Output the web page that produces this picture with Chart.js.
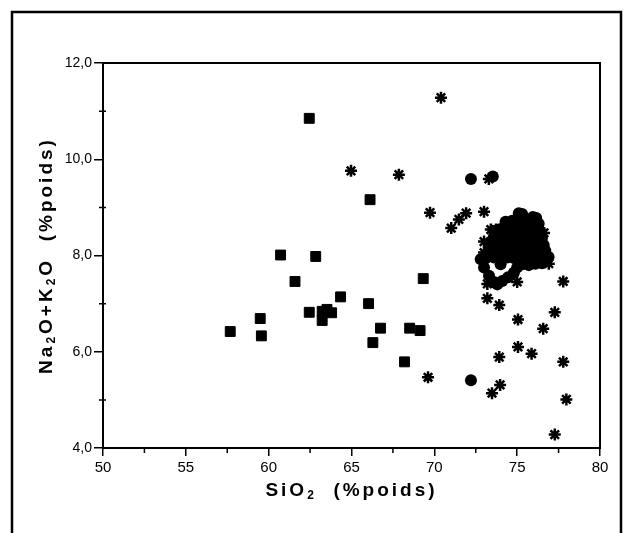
<!DOCTYPE html>
<html>
<head>
<meta charset="utf-8">
<script src="https://cdn.jsdelivr.net/npm/chart.js@4.4.0/dist/chart.umd.min.js"></script>
<style>
  html, body { margin: 0; padding: 0; background: #fff; }
  #wrap { position: relative; width: 627px; height: 533px; }
</style>
</head>
<body>
<div id="wrap"><canvas id="c" width="627" height="533"></canvas></div>
<script>
// ---- data (SiO2 %, Na2O+K2O %) ----
const squarePoints = [
  [62.45, 10.85], [66.12, 9.16], [60.72, 8.01], [62.84, 7.98], [61.59, 7.46],
  [64.34, 7.14], [69.33, 7.52], [66.03, 7.00], [57.68, 6.42], [59.49, 6.69],
  [59.56, 6.33], [62.45, 6.82], [63.23, 6.84], [63.52, 6.88], [63.80, 6.81],
  [63.23, 6.65], [66.75, 6.49], [68.51, 6.49], [69.14, 6.44], [66.29, 6.19],
  [68.20, 5.79]
];
const starPoints = [
  [70.40, 11.28], [64.97, 9.76], [67.86, 9.68], [69.74, 8.89], [71.02, 8.57],
  [71.48, 8.75], [71.92, 8.88], [73.00, 8.91], [73.29, 9.59], [73.41, 8.54],
  [73.73, 8.54], [73.00, 8.29], [73.00, 8.06], [73.20, 7.41], [75.00, 7.45],
  [77.78, 7.46], [76.91, 7.83], [76.62, 8.47], [73.20, 7.11], [73.92, 6.97],
  [75.05, 6.67], [77.27, 6.82], [76.57, 6.48], [75.05, 6.10], [75.87, 5.96],
  [73.92, 5.89], [77.78, 5.79], [69.62, 5.47], [73.97, 5.31], [73.48, 5.14],
  [77.97, 5.01], [77.27, 4.28]
];
const circlePoints = [
  [72.21, 9.59], [73.53, 9.64], [72.21, 5.41],
  [75.10, 8.88], [75.30, 8.86], [75.95, 8.80], [76.15, 8.78],
  [74.30, 8.70], [74.70, 8.72], [75.10, 8.70], [75.50, 8.68], [75.90, 8.70], [76.30, 8.66],
  [74.00, 8.55], [74.40, 8.56], [74.80, 8.55], [75.20, 8.54], [75.60, 8.55], [76.00, 8.53], [76.40, 8.50],
  [73.60, 8.40], [74.00, 8.41], [74.40, 8.40], [74.80, 8.39], [75.20, 8.40], [75.60, 8.38], [76.00, 8.40], [76.50, 8.37],
  [73.30, 8.25], [73.70, 8.26], [74.10, 8.24], [74.50, 8.25], [74.90, 8.26], [75.30, 8.24], [75.70, 8.25], [76.10, 8.23], [76.60, 8.22],
  [73.40, 8.10], [73.80, 8.11], [74.20, 8.09], [74.60, 8.10], [75.00, 8.11], [75.40, 8.09], [75.80, 8.10], [76.20, 8.08], [76.70, 8.10],
  [73.10, 7.95], [73.60, 7.96], [74.00, 7.94], [74.40, 7.96], [74.80, 7.95], [75.20, 7.94], [75.60, 7.96], [76.00, 7.95], [76.40, 7.94], [76.90, 7.97],
  [74.00, 7.82], [75.30, 7.82], [75.70, 7.80], [76.10, 7.83], [76.50, 7.84],
  [72.80, 7.92], [73.00, 7.75], [73.30, 7.58], [73.60, 7.45], [73.80, 7.40],
  [74.10, 7.47], [74.45, 7.55], [74.80, 7.64], [75.00, 7.75]
];
const xTickValues = [50, 55, 60, 65, 70, 75, 80];
const xMinorTicks = [52.5, 57.5, 62.5, 67.5, 72.5, 77.5];
const yTickValues = [4, 6, 8, 10, 12];
const yMinorTicks = [5, 7, 9, 11];
// axis titles: [text, isSubscript]
const xTitleParts = [['SiO', false], ['2', true], ['  (%poids)', false]];
const yTitleParts = [['Na', false], ['2', true], ['O+K', false], ['2', true], ['O  (%poids)', false]];

const toXY = arr => arr.map(p => ({ x: p[0], y: p[1] }));

function drawParts(ctx, parts, cx, cy) {
  const big = 'bold 19px "Liberation Sans", Arial, sans-serif';
  const small = 'bold 12px "Liberation Sans", Arial, sans-serif';
  ctx.letterSpacing = '3px';
  let total = 0;
  const widths = parts.map(([t, sub]) => {
    ctx.font = sub ? small : big;
    const w = ctx.measureText(t).width;
    total += w;
    return w;
  });
  let x = cx - total / 2;
  ctx.textBaseline = 'middle';
  ctx.textAlign = 'left';
  parts.forEach(([t, sub], i) => {
    ctx.font = sub ? small : big;
    ctx.fillText(t, x, sub ? cy + 5 : cy);
    x += widths[i];
  });
  ctx.letterSpacing = '0px';
}

const decorPlugin = {
  id: 'decor',
  beforeDraw(chart) {
    const ctx = chart.ctx;
    ctx.save();
    ctx.fillStyle = '#fff';
    ctx.fillRect(0, 0, chart.width, chart.height);
    ctx.strokeStyle = '#000';
    ctx.lineWidth = 2.5;
    ctx.beginPath();
    ctx.moveTo(12, 533);
    ctx.lineTo(12, 12);
    ctx.lineTo(621, 12);
    ctx.lineTo(621, 533);
    ctx.stroke();
    ctx.restore();
  },
  afterDraw(chart) {
    const ctx = chart.ctx;
    const a = chart.chartArea;
    const xs = chart.scales.x, ys = chart.scales.y;
    ctx.save();
    ctx.strokeStyle = '#000';
    ctx.lineWidth = 2;
    ctx.strokeRect(a.left, a.top, a.right - a.left, a.bottom - a.top);
    ctx.lineWidth = 1.5;
    ctx.beginPath();
    xMinorTicks.forEach(v => {
      const px = xs.getPixelForValue(v);
      ctx.moveTo(px, a.bottom);
      ctx.lineTo(px, a.bottom + 5);
    });
    yMinorTicks.forEach(v => {
      const py = ys.getPixelForValue(v);
      ctx.moveTo(a.left - 4, py);
      ctx.lineTo(a.left + 3, py);
    });
    ctx.stroke();
    ctx.fillStyle = '#000';
    // x title
    drawParts(ctx, xTitleParts, (a.left + a.right) / 2, 491);
    // y title (rotated)
    ctx.save();
    ctx.translate(47, (a.top + a.bottom) / 2);
    ctx.rotate(-Math.PI / 2);
    drawParts(ctx, yTitleParts, 0, 0);
    ctx.restore();
    ctx.restore();
  }
};

new Chart(document.getElementById('c'), {
  type: 'scatter',
  data: {
    datasets: [
      {
        data: toXY(squarePoints),
        pointStyle: 'rect',
        pointRadius: 7,
        backgroundColor: '#000',
        borderColor: '#000',
        borderWidth: 1
      },
      {
        data: toXY(starPoints),
        pointStyle: 'star',
        pointRadius: 6,
        backgroundColor: '#000',
        borderColor: '#000',
        borderWidth: 2.5
      },
      {
        data: toXY(circlePoints),
        pointStyle: 'circle',
        pointRadius: 6,
        backgroundColor: '#000',
        borderColor: '#000',
        borderWidth: 0
      }
    ]
  },
  options: {
    responsive: false,
    animation: false,
    layout: { padding: { left: 38, top: 63, right: 27, bottom: 35 } },
    plugins: { legend: { display: false }, tooltip: { enabled: false } },
    scales: {
      x: {
        type: 'linear',
        min: 50, max: 80,
        afterFit: s => { s.height = 50; },
        afterBuildTicks: s => { s.ticks = xTickValues.map(v => ({ value: v })); },
        ticks: {
          color: '#000',
          padding: 3,
          maxRotation: 0,
          autoSkip: false,
          font: { family: 'Liberation Sans', size: 15 },
          callback: v => String(v)
        },
        grid: { drawOnChartArea: false, drawTicks: true, tickLength: 8, color: '#000', lineWidth: 1.5 },
        border: { display: true, color: '#000', width: 2 },
        title: { display: false }
      },
      y: {
        type: 'linear',
        min: 4, max: 12,
        afterFit: s => { s.width = 65; },
        afterBuildTicks: s => { s.ticks = yTickValues.map(v => ({ value: v })); },
        ticks: {
          color: '#000',
          padding: 2,
          autoSkip: false,
          font: { family: 'Liberation Sans', size: 14 },
          callback: v => Number(v).toFixed(1).replace('.', ',')
        },
        grid: { drawOnChartArea: false, drawTicks: true, tickLength: 9, color: '#000', lineWidth: 1.5 },
        border: { display: true, color: '#000', width: 2 },
        title: { display: false }
      }
    }
  },
  plugins: [decorPlugin]
});
</script>
</body>
</html>
